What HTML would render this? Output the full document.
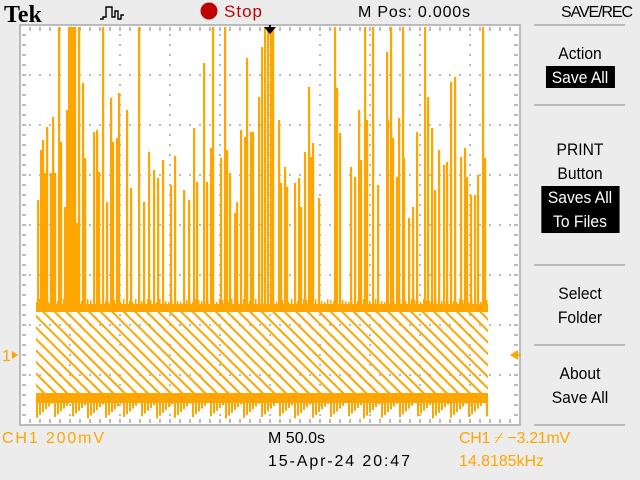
<!DOCTYPE html>
<html><head><meta charset="utf-8"><style>
html,body{margin:0;padding:0;background:#ececec;}
svg{display:block;font-family:"Liberation Sans",sans-serif;}
</style></head><body>
<svg id="scope" width="640" height="480" viewBox="0 0 640 480">
<rect x="0" y="0" width="640" height="480" fill="#ececec"/>
<text x="4" y="22" font-family="Liberation Serif,serif" font-weight="bold" font-size="24">Tek</text>
<path d="M100 19 h3 v-2 h3 v-10 h6 v10 h3 v-6 h3 v8 h3 v-4 h3" fill="none" stroke="#000" stroke-width="1.4"/>
<circle cx="209" cy="11" r="8.5" fill="#c00000"/>
<text x="224" y="17" fill="#c00000" font-size="17" textLength="38">Stop</text>
<text x="358" y="17" font-size="16" textLength="112">M Pos: 0.000s</text>
<text x="597" y="17" font-size="16" text-anchor="middle" textLength="72">SAVE/REC</text>
<g id="grat"></g>
<g id="trace"></g>
<path d="M264 27 h12 l-6 7 z M269 25 h2 v4 h-2z" fill="#000"/>
<text x="2" y="361" fill="#ffa500" font-size="16">1</text>
<path d="M12 351 l6 4 l-6 4z" fill="#ffa500"/>
<path d="M510 355 l8 -5 v10z M514 354 h7 v2 h-7z" fill="#ffa500"/>
<g font-size="17" text-anchor="middle" fill="#000">
<g stroke="#bbb" stroke-width="2"><line x1="534" y1="25" x2="625" y2="25"/><line x1="534" y1="105" x2="625" y2="105"/><line x1="534" y1="265" x2="625" y2="265"/><line x1="534" y1="345" x2="625" y2="345"/><line x1="534" y1="425" x2="625" y2="425"/></g>
<g transform="translate(580 0) scale(0.92 1) translate(-580 0)"><text x="580" y="59">Action</text><rect x="543" y="66" width="75" height="22" fill="#000"/><text x="580" y="83" fill="#fff">Save All</text></g>
<g transform="translate(580 0) scale(0.92 1) translate(-580 0)"><text x="580" y="155">PRINT</text><text x="580" y="179">Button</text><rect x="538" y="186" width="85" height="47" fill="#000"/><text x="580" y="203" fill="#fff">Saves All</text><text x="580" y="227" fill="#fff">To Files</text></g>
<g transform="translate(580 0) scale(0.92 1) translate(-580 0)"><text x="580" y="299">Select</text><text x="580" y="323">Folder</text></g>
<g transform="translate(580 0) scale(0.92 1) translate(-580 0)"><text x="580" y="379">About</text><text x="580" y="403">Save All</text></g>
</g>
<text x="2" y="443" fill="#ffa500" font-size="16" textLength="102">CH1  200mV</text>
<text x="268" y="443" font-size="16" textLength="57">M 50.0s</text>
<text x="268" y="466" font-size="16" textLength="142">15-Apr-24 20:47</text>
<text x="459" y="443" fill="#ffa500" font-size="16" textLength="111">CH1 ⌿ −3.21mV</text>
<text x="459" y="466" fill="#ffa500" font-size="16" textLength="85">14.8185kHz</text>
</svg>
<script>
// spike times (s, relative to trigger) and peak voltages (mV)
const spikeTimes=[-232,-229,-227,-225,-223,-219,-217,-215,-211,-209,-205,-203,-201,-199,-197,-195,-193,-191,-187,-185,-176,-173,-171,-167,-163,-159,-157,-153,-151,-143,-139,-131,-126,-121,-116,-112,-107,-99,-95,-86,-81,-76,-73,-66,-63,-59,-57,-49,-45,-43,-40,-35,-33,-29,-25,-23,-19,-17,-11,-8,-5,-2,1,3,9,11,15,17,25,29,31,35,39,41,43,49,65,67,70,81,85,89,91,95,97,103,108,117,118,121,123,127,129,133,134,139,143,147,155,158,162,165,169,174,177,181,185,191,195,197,201,205,208,213,215];
const spikePeaks=[620,820,860,728,912,728,952,728,1312,852,592,980,1312,1312,1312,1312,528,1312,1088,788,892,900,732,1312,612,1028,852,868,1048,980,668,1312,612,812,740,708,780,680,796,660,620,908,692,1168,692,828,1312,788,1312,820,728,568,612,900,872,1188,892,892,1032,1232,1312,1312,1312,1312,940,688,752,672,688,708,592,812,1072,792,848,628,1312,1068,888,752,712,980,780,1312,940,1312,680,1212,940,1312,868,712,948,1312,788,548,592,892,1312,1032,908,660,820,760,772,1092,1112,792,828,712,640,640,720,1312,788];
const highLevel=188;   // mV, upper logic level
const lowLevel=-168;   // mV, lower logic level
const NS="http://www.w3.org/2000/svg";
const gx0=20,gy0=25,gw=500,gh=400,zeroY=355;
function xOf(t){return 270+t*(50/50);}
function yOf(mv){return Math.max(gy0+1,zeroY-mv*(50/200));}
function mk(tag,attrs,parent){const e=document.createElementNS(NS,tag);for(const k in attrs)e.setAttribute(k,attrs[k]);parent.appendChild(e);return e;}
const grat=document.getElementById('grat');
mk('rect',{x:gx0,y:gy0,width:gw,height:gh,fill:'#fff',stroke:'#bbb','stroke-width':2},grat);
for(let i=1;i<10;i++){mk('line',{x1:gx0+i*50,y1:gy0,x2:gx0+i*50,y2:gy0+gh,stroke:'#bbb','stroke-width':2,'stroke-dasharray':'2 8','stroke-dashoffset':'-9'},grat);}
for(let j=1;j<8;j++){mk('line',{x1:gx0,y1:gy0+j*50,x2:gx0+gw,y2:gy0+j*50,stroke:'#bbb','stroke-width':2,'stroke-dasharray':'2 8','stroke-dashoffset':'-9'},grat);}
mk('line',{x1:gx0,y1:gy0+4,x2:gx0+gw,y2:gy0+4,stroke:'#bbb','stroke-width':4,'stroke-dasharray':'2 8','stroke-dashoffset':'-9'},grat);
mk('line',{x1:gx0,y1:gy0+gh-4,x2:gx0+gw,y2:gy0+gh-4,stroke:'#bbb','stroke-width':4,'stroke-dasharray':'2 8','stroke-dashoffset':'-9'},grat);
mk('line',{x1:gx0+4,y1:gy0,x2:gx0+4,y2:gy0+gh,stroke:'#bbb','stroke-width':4,'stroke-dasharray':'2 8','stroke-dashoffset':'-9'},grat);
mk('line',{x1:gx0+gw-4,y1:gy0,x2:gx0+gw-4,y2:gy0+gh,stroke:'#bbb','stroke-width':4,'stroke-dasharray':'2 8','stroke-dashoffset':'-9'},grat);
const tr=document.getElementById('trace');
const C='#ffa500';
const xs=36,xe=488;
const hy=yOf(highLevel),ly=yOf(lowLevel);
const defs=mk('clipPath',{id:'hc'},tr);
mk('rect',{x:xs,y:hy+4,width:xe-xs,height:ly-hy-4},defs);
const hg=mk('g',{'clip-path':'url(#hc)'},tr);
for(let x=xs-100;x<xe;x+=11.5){mk('line',{x1:x,y1:hy,x2:x+(ly-hy),y2:ly,stroke:C,'stroke-width':2},hg);}
mk('rect',{x:xs,y:hy-4,width:xe-xs,height:8,fill:C},tr);
mk('rect',{x:xs,y:ly-4,width:xe-xs,height:10,fill:C},tr);
for(let x=xs;x<xe;x+=3){const d=((x*37)%23);mk('rect',{x:x,y:ly,width:2,height:6+d*0.7,fill:C},tr);
 mk('rect',{x:x,y:hy-6-((x*5)%4),width:1.5,height:6,fill:C},tr);}
for(let i=0;i<spikeTimes.length;i++){
  const sp=mk('rect',{x:xOf(spikeTimes[i])-1,y:yOf(spikePeaks[i]),width:2.2,height:hy-yOf(spikePeaks[i]),fill:C},tr);
  
  
}
</script>
</body></html>
